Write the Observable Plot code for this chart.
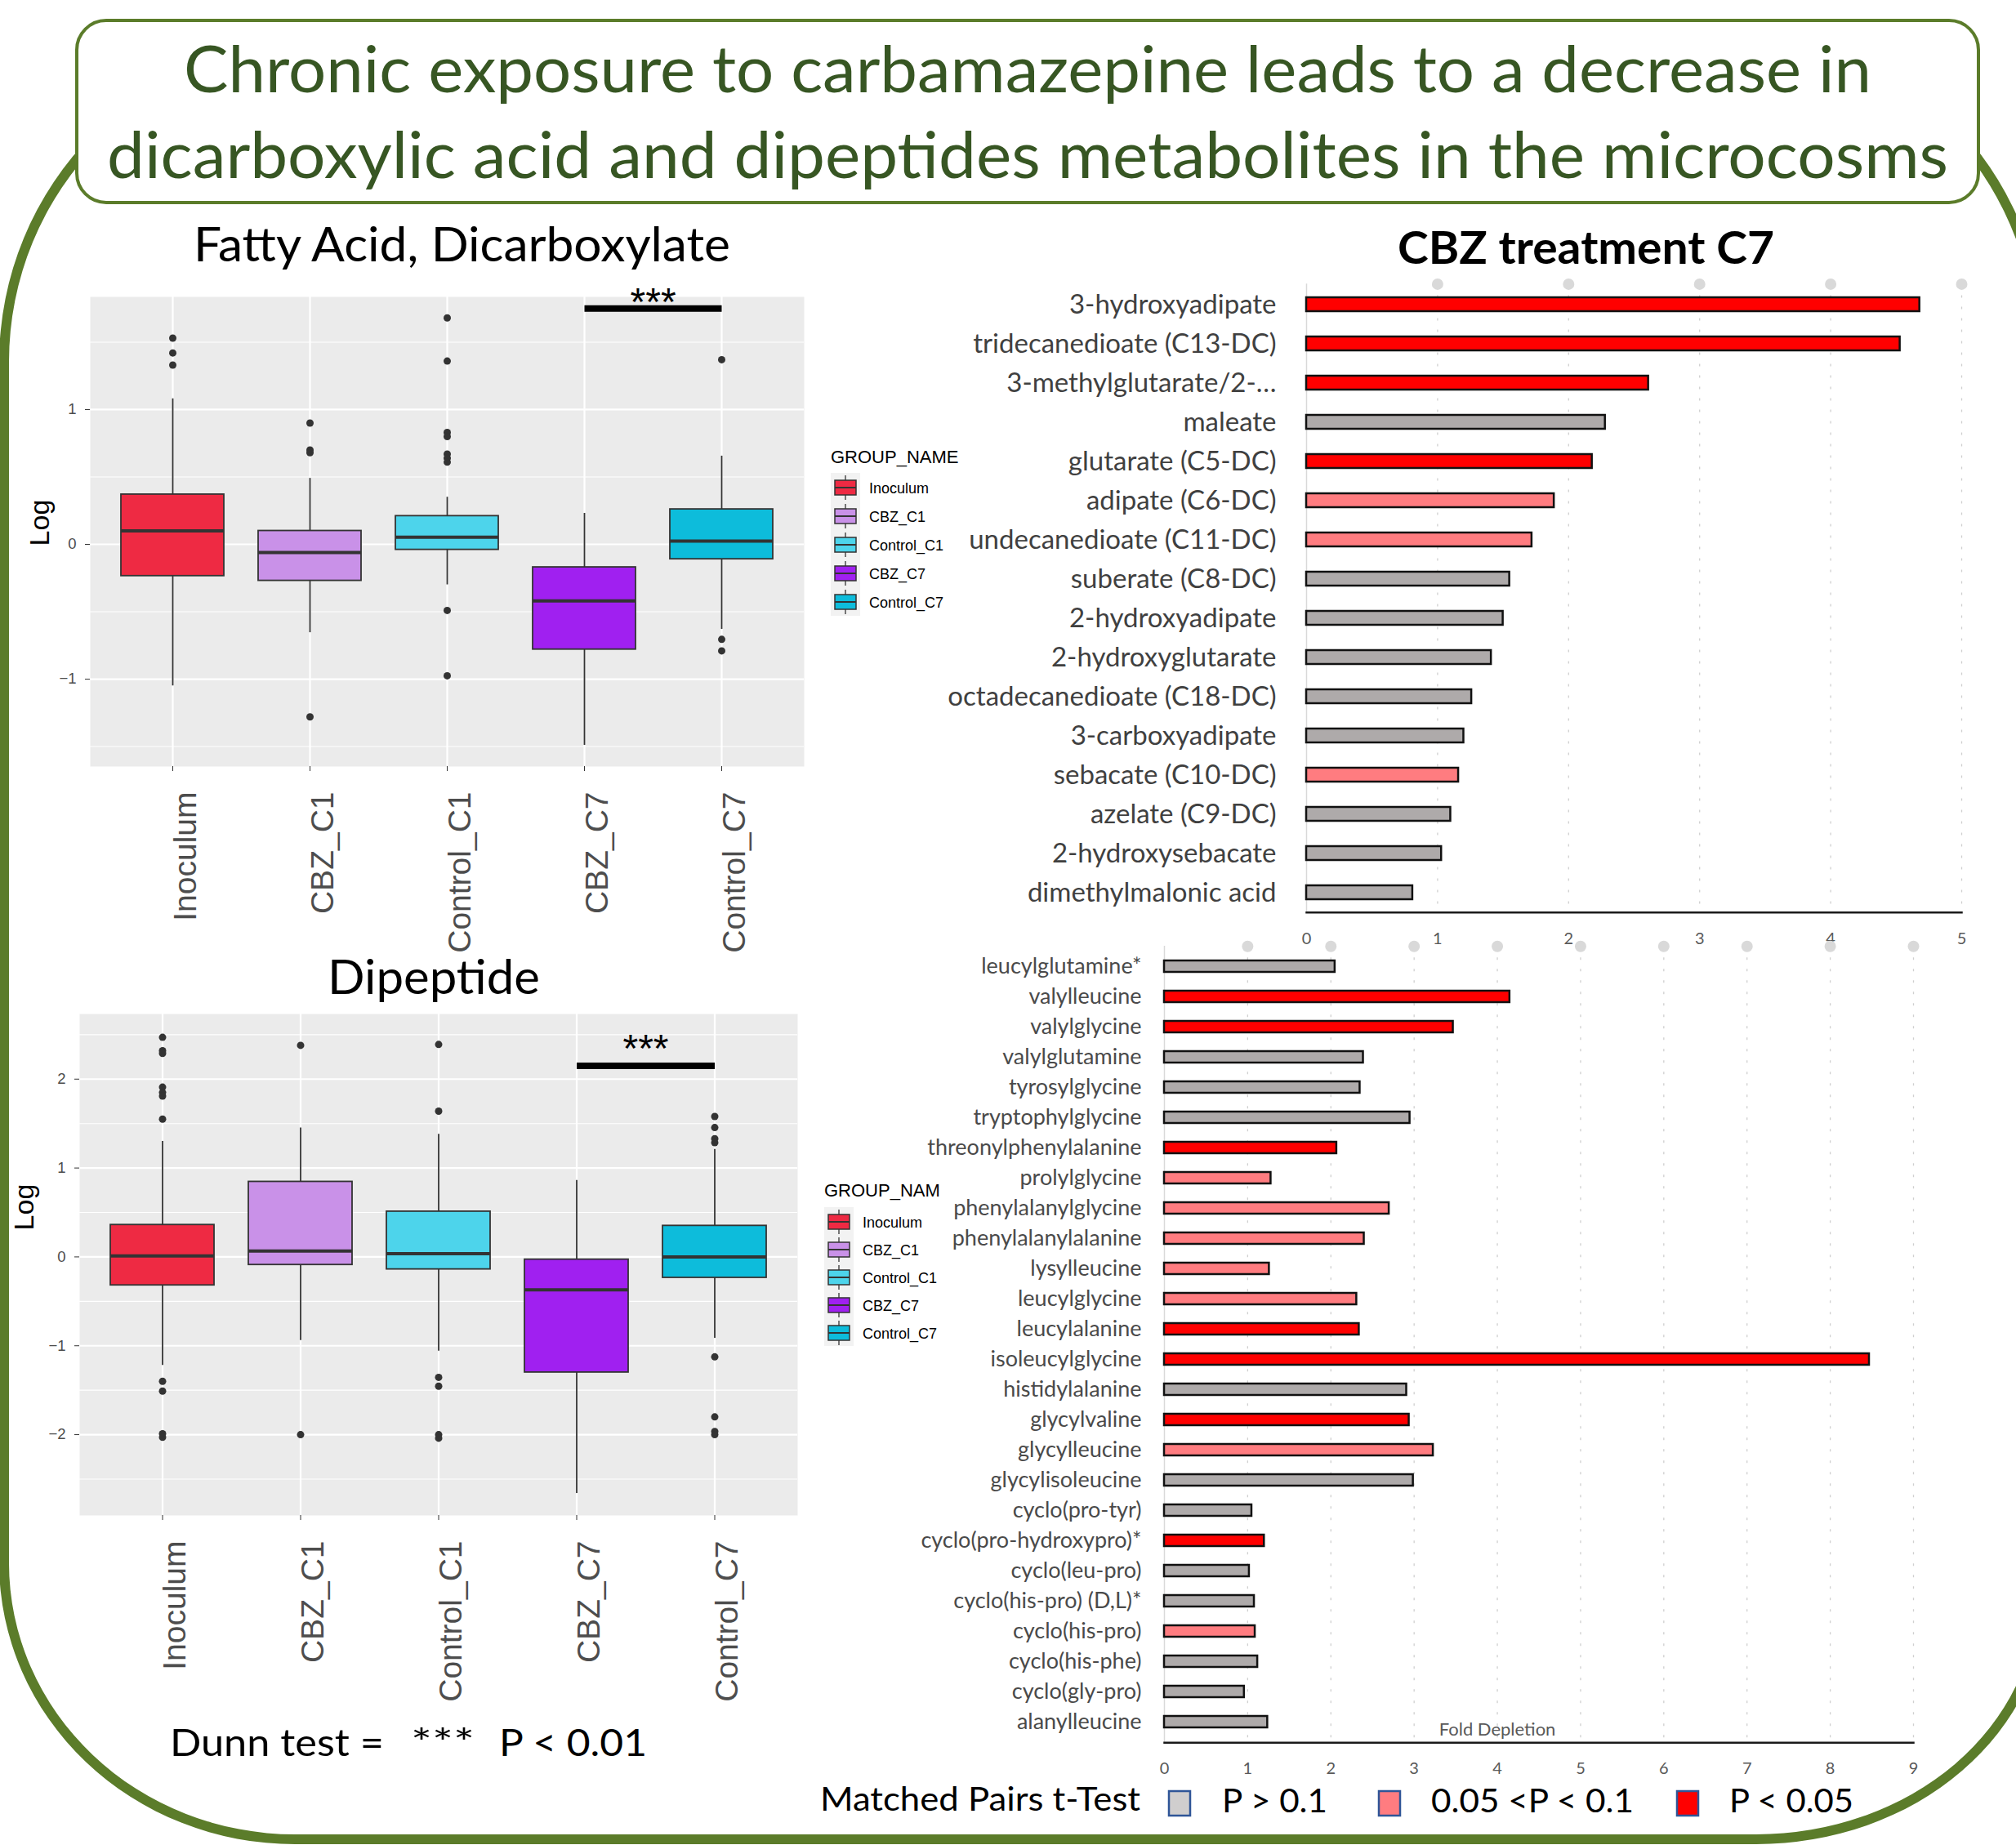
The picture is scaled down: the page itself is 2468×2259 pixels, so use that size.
<!DOCTYPE html>
<html>
<head>
<meta charset="utf-8">
<script src="https://cdn.jsdelivr.net/npm/d3@7"></script>
<script src="https://cdn.jsdelivr.net/npm/@observablehq/plot@0.6"></script>
<style>
html, body { margin: 0; padding: 0; background: #fff; }
body { width: 2468px; height: 2259px; position: relative; overflow: hidden; }
.abs { position: absolute; }
#frame {
  position: absolute; left: -1px; top: 47px; width: 2507px; height: 2211px;
  box-sizing: border-box; border: 12px solid #5b7c2a;
  border-radius: 396px 356px 356px 362px / 396px 390px 306px 344px;
}
#overlay { position: absolute; left: 0; top: 0; pointer-events: none; }
</style>
</head>
<body>
<div id="frame"></div>
<div id="boxFA" class="abs" style="left:0px;top:330px"></div>
<div id="boxDP" class="abs" style="left:0px;top:1215px"></div>
<div id="barDC" class="abs" style="left:1000px;top:320px"></div>
<div id="barDP" class="abs" style="left:1000px;top:1130px"></div>
<svg id="overlay" width="2468" height="2259"></svg>
<script>
// ---------------- DATA ----------------
const groups = ["Inoculum", "CBZ_C1", "Control_C1", "CBZ_C7", "Control_C7"];
const groupColors = ["#ee2a43", "#c991e8", "#4dd4eb", "#a020f0", "#0dbcdb"];

// Fatty Acid, Dicarboxylate (log values)
const faLow    = [-1.05, -0.655, -0.30, -1.49, -0.63];
const faQ1     = [-0.235, -0.27, -0.04, -0.78, -0.11];
const faMedian = [0.10, -0.06, 0.053, -0.42, 0.025];
const faQ3     = [0.37, 0.10, 0.21, -0.17, 0.26];
const faHigh   = [1.08, 0.49, 0.35, 0.23, 0.655];
const faOutlierGroup = ["Inoculum","Inoculum","Inoculum",
  "CBZ_C1","CBZ_C1","CBZ_C1","CBZ_C1",
  "Control_C1","Control_C1","Control_C1","Control_C1","Control_C1","Control_C1","Control_C1","Control_C1","Control_C1",
  "Control_C7","Control_C7","Control_C7"];
const faOutlierValue = [1.53, 1.42, 1.33,
  0.90, 0.70, 0.68, -1.28,
  1.68, 1.36, 0.83, 0.80, 0.67, 0.64, 0.61, -0.49, -0.975,
  1.37, -0.705, -0.79];
const faYTicks = [-1, 0, 1];
const faYMinor = [-1.5, -0.5, 0.5, 1.5];
const faYDomain = [-1.648, 1.836];
const faSig = {from: "CBZ_C7", to: "Control_C7", barY: 1.75, starY: 1.865, label: "***"};

// Dipeptide (log values)
const dpLow    = [-1.22, -0.94, -1.06, -2.66, -0.915];
const dpQ1     = [-0.32, -0.09, -0.14, -1.30, -0.235];
const dpMedian = [0.01, 0.065, 0.035, -0.37, 0.0];
const dpQ3     = [0.36, 0.845, 0.51, -0.03, 0.35];
const dpHigh   = [1.30, 1.45, 1.38, 0.86, 1.21];
const dpOutlierGroup = ["Inoculum","Inoculum","Inoculum","Inoculum","Inoculum","Inoculum","Inoculum","Inoculum","Inoculum","Inoculum","Inoculum",
  "CBZ_C1","CBZ_C1",
  "Control_C1","Control_C1","Control_C1","Control_C1","Control_C1","Control_C1",
  "Control_C7","Control_C7","Control_C7","Control_C7","Control_C7","Control_C7","Control_C7","Control_C7"];
const dpOutlierValue = [2.47, 2.32, 2.29, 1.91, 1.85, 1.81, 1.55, -1.40, -1.51, -1.99, -2.03,
  2.38, -2.00,
  2.39, 1.64, -1.355, -1.455, -2.00, -2.04,
  1.58, 1.455, 1.33, 1.285, -1.125, -1.80, -1.965, -2.00];
const dpYTicks = [-2, -1, 0, 1, 2];
const dpYMinor = [-2.5, -1.5, -0.5, 0.5, 1.5, 2.5];
const dpYDomain = [-2.909, 2.733];
const dpSig = {from: "CBZ_C7", to: "Control_C7", barY: 2.15, starY: 2.45, label: "***"};

// Significance classes (Matched Pairs t-Test)
const sigLevels = ["P > 0.1", "0.05 <P < 0.1", "P < 0.05"];
const sigColors = ["#aeaaaa", "#ff7c80", "#ff0000"];
const sigSwatches = ["#d0cece", "#ff7c80", "#ff0000"];

// CBZ treatment C7 — dicarboxylates (fold depletion)
const dcNames = ["3-hydroxyadipate", "tridecanedioate (C13-DC)", "3-methylglutarate/2-…", "maleate",
  "glutarate (C5-DC)", "adipate (C6-DC)", "undecanedioate (C11-DC)", "suberate (C8-DC)",
  "2-hydroxyadipate", "2-hydroxyglutarate", "octadecanedioate (C18-DC)", "3-carboxyadipate",
  "sebacate (C10-DC)", "azelate (C9-DC)", "2-hydroxysebacate", "dimethylmalonic acid"];
const dcFold = [4.68, 4.53, 2.61, 2.28, 2.18, 1.89, 1.72, 1.55, 1.50, 1.41, 1.26, 1.20, 1.16, 1.10, 1.03, 0.81];
const dcSig = ["P < 0.05", "P < 0.05", "P < 0.05", "P > 0.1",
  "P < 0.05", "0.05 <P < 0.1", "0.05 <P < 0.1", "P > 0.1",
  "P > 0.1", "P > 0.1", "P > 0.1", "P > 0.1",
  "0.05 <P < 0.1", "P > 0.1", "P > 0.1", "P > 0.1"];
const dcTicks = [0, 1, 2, 3, 4, 5];

// CBZ treatment C7 — dipeptides (fold depletion)
const dipNames = ["leucylglutamine*", "valylleucine", "valylglycine", "valylglutamine", "tyrosylglycine",
  "tryptophylglycine", "threonylphenylalanine", "prolylglycine", "phenylalanylglycine", "phenylalanylalanine",
  "lysylleucine", "leucylglycine", "leucylalanine", "isoleucylglycine", "histidylalanine", "glycylvaline",
  "glycylleucine", "glycylisoleucine", "cyclo(pro-tyr)", "cyclo(pro-hydroxypro)*", "cyclo(leu-pro)",
  "cyclo(his-pro) (D,L)*", "cyclo(his-pro)", "cyclo(his-phe)", "cyclo(gly-pro)", "alanylleucine"];
const dipFold = [2.05, 4.15, 3.47, 2.39, 2.35, 2.95, 2.07, 1.28, 2.70, 2.40, 1.26, 2.31, 2.34, 8.47,
  2.91, 2.94, 3.23, 2.99, 1.05, 1.20, 1.02, 1.08, 1.09, 1.12, 0.96, 1.24];
const dipSig = ["P > 0.1", "P < 0.05", "P < 0.05", "P > 0.1", "P > 0.1",
  "P > 0.1", "P < 0.05", "0.05 <P < 0.1", "0.05 <P < 0.1", "0.05 <P < 0.1",
  "0.05 <P < 0.1", "0.05 <P < 0.1", "P < 0.05", "P < 0.05", "P > 0.1", "P < 0.05",
  "0.05 <P < 0.1", "P > 0.1", "P > 0.1", "P < 0.05", "P > 0.1",
  "P > 0.1", "0.05 <P < 0.1", "P > 0.1", "P > 0.1", "P > 0.1"];
const dipTicks = [0, 1, 2, 3, 4, 5, 6, 7, 8, 9];
const foldLabel = {text: "Fold Depletion", x: 4.0};

const intFormat = d3.format("d");

// ---------------- CHARTS ----------------
function boxPanel(o) {
  const rows = groups.map((g, i) => ({g, lo: o.lo[i], q1: o.q1[i], med: o.med[i], q3: o.q3[i], hi: o.hi[i]}));
  const outs = o.outG.map((g, i) => ({g, v: o.outV[i]}));
  const plotW = o.width - o.ml - o.mr;
  const step = plotW / 5.2;
  return Plot.plot({
    width: o.width, height: o.height,
    marginLeft: o.ml, marginRight: o.mr, marginTop: o.mt, marginBottom: o.mb,
    style: {fontFamily: "'Liberation Sans', Arial, sans-serif", background: "transparent", overflow: "visible"},
    x: {domain: groups, paddingInner: 0.25, paddingOuter: 0.225, label: null},
    y: {domain: o.yDomain, label: null},
    color: {domain: groups, range: groupColors},
    marks: [
      Plot.frame({fill: "#ebebeb", stroke: "none"}),
      Plot.ruleY(o.minor, {stroke: "#ffffff", strokeWidth: 1.1}),
      Plot.ruleY(o.major, {stroke: "#ffffff", strokeWidth: 2.2}),
      Plot.ruleX(groups, {stroke: "#ffffff", strokeWidth: 2.2}),
      Plot.ruleX(rows, {x: "g", y1: "lo", y2: "hi", stroke: "#333333", strokeWidth: 1.8}),
      Plot.barY(rows, {x: "g", y1: "q1", y2: "q3", fill: "g", stroke: "#333333", strokeWidth: 1.8}),
      Plot.tickY(rows, {x: "g", y: "med", stroke: "#333333", strokeWidth: 4}),
      Plot.dot(outs, {x: "g", y: "v", r: 4.5, fill: "#333333", stroke: "none"}),
      Plot.link([o.sig], {x1: d => d.from, x2: d => d.to, y1: d => d.barY, y2: d => d.barY, stroke: "#000", strokeWidth: 8}),
      Plot.text([o.sig], {x: d => d.from, y: d => d.starY, text: d => d.label, dx: step / 2, dy: 12,
        fontSize: 48, fill: "#000", lineAnchor: "middle"}),
      Plot.axisY(o.major, {tickSize: 6, tickPadding: 11, fontSize: 18.5, fill: "#4d4d4d", stroke: "#333333",
        tickFormat: intFormat, label: null}),
      Plot.axisX({tickSize: 6, fill: "none", stroke: "#333333", label: null}),
      Plot.axisX({tickSize: 0, tickPadding: 31, tickRotate: -90, fontSize: 39, fill: "#4d4d4d", dx: 16, label: null})
    ]
  });
}

function barPanel(o) {
  const rows = o.names.map((n, i) => ({name: n, v: o.values[i], sig: o.sig[i]}));
  return Plot.plot({
    width: o.width, height: o.height,
    marginLeft: o.ml, marginRight: o.mr, marginTop: o.mt, marginBottom: o.mb,
    style: {fontFamily: "Lato, sans-serif", background: "transparent", overflow: "visible"},
    x: {domain: [0, o.ticks[o.ticks.length - 1]], label: null},
    y: {domain: o.names, paddingInner: o.pad, paddingOuter: o.pad / 2, label: null},
    color: {domain: sigLevels, range: sigColors},
    marks: [
      Plot.ruleX(o.ticks.slice(1), {stroke: "#cfcfcf", strokeWidth: 1.3, strokeDasharray: "3,11"}),
      Plot.frame({anchor: "left", stroke: "#d9d9d9", strokeWidth: 1.5}),
      Plot.dot(o.ticks.slice(1), {x: d => d, frameAnchor: "top", r: 7, fill: "#d9d9d9", stroke: "none"}),
      Plot.barX(rows, {x: "v", y: "name", fill: "sig", stroke: "#111111", strokeWidth: 2.5}),
      Plot.frame({anchor: "bottom", stroke: "#1a1a1a", strokeWidth: 2.5}),
      Plot.axisX(o.ticks, {tickSize: 0, tickPadding: o.tickPad, fontSize: 20, fill: "#595959",
        tickFormat: intFormat, label: null}),
      Plot.axisY({tickSize: 0, tickPadding: o.labelPad, fontSize: o.labelSize, fill: o.labelColor, label: null}),
      o.fold ? Plot.text([o.fold], {x: d => d.x, text: d => d.text, frameAnchor: "bottom", dy: -16,
        fontSize: 22, fill: "#595959", lineAnchor: "middle"}) : null
    ]
  });
}

document.getElementById("boxFA").appendChild(boxPanel({
  width: 1000, height: 860, ml: 110, mr: 16, mt: 33, mb: 252,
  lo: faLow, q1: faQ1, med: faMedian, q3: faQ3, hi: faHigh,
  outG: faOutlierGroup, outV: faOutlierValue,
  yDomain: faYDomain, major: faYTicks, minor: faYMinor, sig: faSig
}));
document.getElementById("boxDP").appendChild(boxPanel({
  width: 1000, height: 900, ml: 97, mr: 24, mt: 26, mb: 260,
  lo: dpLow, q1: dpQ1, med: dpMedian, q3: dpQ3, hi: dpHigh,
  outG: dpOutlierGroup, outV: dpOutlierValue,
  yDomain: dpYDomain, major: dpYTicks, minor: dpYMinor, sig: dpSig
}));
document.getElementById("barDC").appendChild(barPanel({
  width: 1468, height: 860, ml: 599, mr: 67, mt: 27.4, mb: 63.2,
  names: dcNames, values: dcFold, sig: dcSig, ticks: dcTicks, pad: 0.65,
  tickPad: 24, labelPad: 37, labelSize: 33, labelColor: "#404040"
}));
document.getElementById("barDP").appendChild(barPanel({
  width: 1468, height: 1068, ml: 425, mr: 126, mt: 28.2, mb: 64.8,
  names: dipNames, values: dipFold, sig: dipSig, ticks: dipTicks, pad: 0.62,
  tickPad: 24, labelPad: 28, labelSize: 27, labelColor: "#4a4a4a", fold: foldLabel
}));

// ---------------- OVERLAY (titles, legends, frame box) ----------------
const NS = "http://www.w3.org/2000/svg";
const ov = document.getElementById("overlay");
function node(tag, attrs, parent = ov) {
  const e = document.createElementNS(NS, tag);
  for (const k in attrs) e.setAttribute(k, attrs[k]);
  parent.appendChild(e);
  return e;
}
function txt(s, x, y, size, o = {}) {
  const a = {x, y, "font-size": size, "font-family": o.family || "Lato, sans-serif", fill: o.fill || "#000"};
  if (o.weight) a["font-weight"] = o.weight;
  if (o.len) { a.textLength = o.len; a.lengthAdjust = "spacingAndGlyphs"; }
  if (o.anchor) a["text-anchor"] = o.anchor;
  if (o.rotate) a.transform = `rotate(${o.rotate} ${x} ${y})`;
  const t = node("text", a);
  t.textContent = s;
  return t;
}

// title box
node("rect", {x: 94, y: 25, width: 2328, height: 223, rx: 36, ry: 36, fill: "#fff", stroke: "#5b7c2a", "stroke-width": 4});
txt("Chronic exposure to carbamazepine leads to a decrease in", 225, 113, 80, {fill: "#375623", len: 2066});
txt("dicarboxylic acid and dipeptides metabolites in the microcosms", 131, 218, 80, {fill: "#375623", len: 2254});

// panel titles
txt("Fatty Acid, Dicarboxylate", 237, 320, 58, {len: 657});
txt("Dipeptide", 401, 1217, 58, {len: 260});
txt("CBZ treatment C7", 1711, 323, 56, {weight: 700, len: 461});

// y labels
txt("Log", 60, 640, 34, {family: "'Liberation Sans', Arial, sans-serif", anchor: "middle", rotate: -90});
txt("Log", 41, 1478, 34, {family: "'Liberation Sans', Arial, sans-serif", anchor: "middle", rotate: -90});

// Dunn test note
txt("Dunn test =", 208, 2150, 46, {len: 262});
txt("***", 503, 2150, 46, {len: 78});
txt("P < 0.01", 611, 2150, 46, {len: 181});

// GROUP_NAME legends
function groupLegend(title, x, titleY, y0, step) {
  txt(title, x, titleY, 22, {family: "'Liberation Sans', Arial, sans-serif"});
  node("rect", {x: x, y: y0 - 18, width: 36, height: step * groups.length, fill: "#f2f2f2"});
  groups.forEach((g, i) => {
    const cy = y0 + i * step;
    const cx = x + 18;
    node("line", {x1: cx, x2: cx, y1: cy - 15, y2: cy + 15, stroke: "#333", "stroke-width": 1.3});
    node("rect", {x: cx - 13, y: cy - 9, width: 26, height: 18, fill: groupColors[i], stroke: "#333", "stroke-width": 1.5});
    node("line", {x1: cx - 13, x2: cx + 13, y1: cy, y2: cy, stroke: "#333", "stroke-width": 2});
    txt(g, x + 47, cy + 6.5, 18, {family: "'Liberation Sans', Arial, sans-serif"});
  });
}
groupLegend("GROUP_NAME", 1017, 567, 597, 35);
groupLegend("GROUP_NAM", 1009, 1465, 1496, 34);

// Matched pairs legend
txt("Matched Pairs t-Test", 1004, 2217, 40, {len: 392});
const swX = [1431, 1688, 2053];
const labX = [1496, 1752, 2117];
const labW = [129, 248, 152];
sigLevels.forEach((s, i) => {
  node("rect", {x: swX[i], y: 2193, width: 26, height: 30, fill: sigSwatches[i], stroke: "#2f5597", "stroke-width": 2.5});
  txt(s, labX[i], 2219, 40, {len: labW[i]});
});
</script>
</body>
</html>
